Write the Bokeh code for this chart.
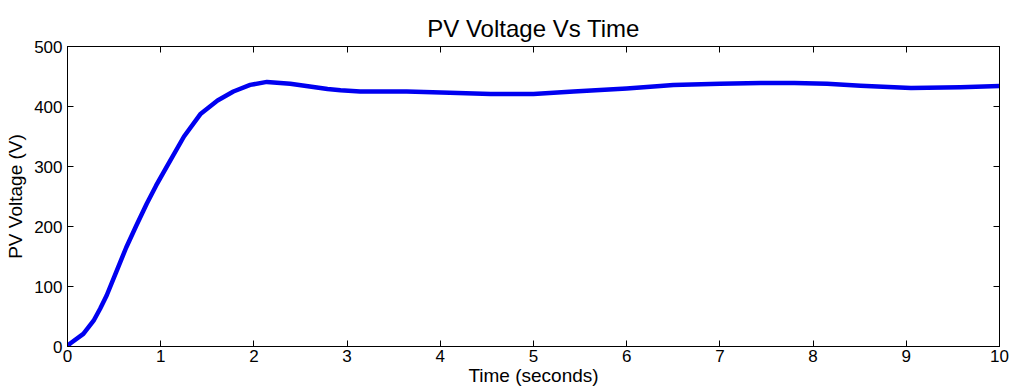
from bokeh.plotting import figure
from bokeh.models import Range1d, LinearAxis, FixedTicker
from bokeh.embed import file_html
from bokeh.resources import INLINE

time_s = [0, 0.025, 0.17, 0.28, 0.35, 0.42, 0.53, 0.63, 0.74, 0.85, 0.95, 1.0,
          1.07, 1.25, 1.43, 1.61, 1.78, 1.96, 2.14, 2.39, 2.79, 2.93, 3.14,
          3.64, 4.1, 4.54, 5.0, 5.43, 6.0, 6.36, 6.5, 7.0, 7.44, 7.8, 8.15,
          8.51, 9.05, 9.58, 10.0]
voltage = [0, 4.5, 21, 43, 63, 85, 127, 165, 202, 238, 268, 282,
           301, 350, 388, 410, 425, 436, 441, 438, 429, 427, 425,
           425, 423, 421, 421, 425, 430, 434, 436, 438, 439, 439, 438,
           434.5, 431, 432, 434]
x_ticks = [0, 1, 2, 3, 4, 5, 6, 7, 8, 9, 10]
y_ticks = [0, 100, 200, 300, 400, 500]

FONT = "Liberation Sans"

p = figure(width=1015, height=392, output_backend="svg", toolbar_location=None,
           x_range=Range1d(0, 10), y_range=Range1d(0, 500),
           min_border_left=67, min_border_right=16, min_border_top=46, min_border_bottom=46,
           title="PV Voltage Vs Time")
p.title.align = "center"
p.title.text_font = FONT
p.title.text_font_size = "24px"
p.title.text_font_style = "normal"
p.title.text_color = "black"
p.title.offset = 0
p.title.standoff = 10

p.line(time_s, voltage, line_color="#0000f0", line_width=4.5, line_join="round")

p.grid.visible = False
p.outline_line_color = "black"
p.outline_line_width = 1
p.background_fill_color = "white"
p.border_fill_color = "white"

def style(ax, ticks, labels=True):
    ax.ticker = FixedTicker(ticks=ticks)
    ax.major_tick_in = 6
    ax.major_tick_out = 0
    ax.minor_tick_line_color = None
    ax.axis_line_color = "black"
    ax.major_tick_line_color = "black"
    ax.major_label_text_font = FONT
    ax.major_label_text_font_size = "17px"
    ax.major_label_text_color = "black"
    ax.axis_label_text_font = FONT
    ax.axis_label_text_font_size = "19px"
    ax.axis_label_text_font_style = "normal"
    ax.axis_label_text_color = "black"
    if not labels:
        ax.major_label_overrides = {t: "" for t in ticks}
        ax.major_label_standoff = 0
        ax.major_label_text_font_size = "0px"

style(p.xaxis[0], x_ticks)
style(p.yaxis[0], y_ticks)
p.xaxis[0].axis_label = "Time (seconds)"
p.xaxis[0].axis_label_standoff = 0
p.xaxis[0].major_label_standoff = 3
p.yaxis[0].axis_label = "PV Voltage (V)"
p.yaxis[0].axis_label_standoff = 5
p.yaxis[0].major_label_standoff = 5

top = LinearAxis()
style(top, x_ticks, labels=False)
p.add_layout(top, "above")
right = LinearAxis()
style(right, y_ticks, labels=False)
p.add_layout(right, "right")

open("out.html", "w").write(file_html(p, INLINE))
